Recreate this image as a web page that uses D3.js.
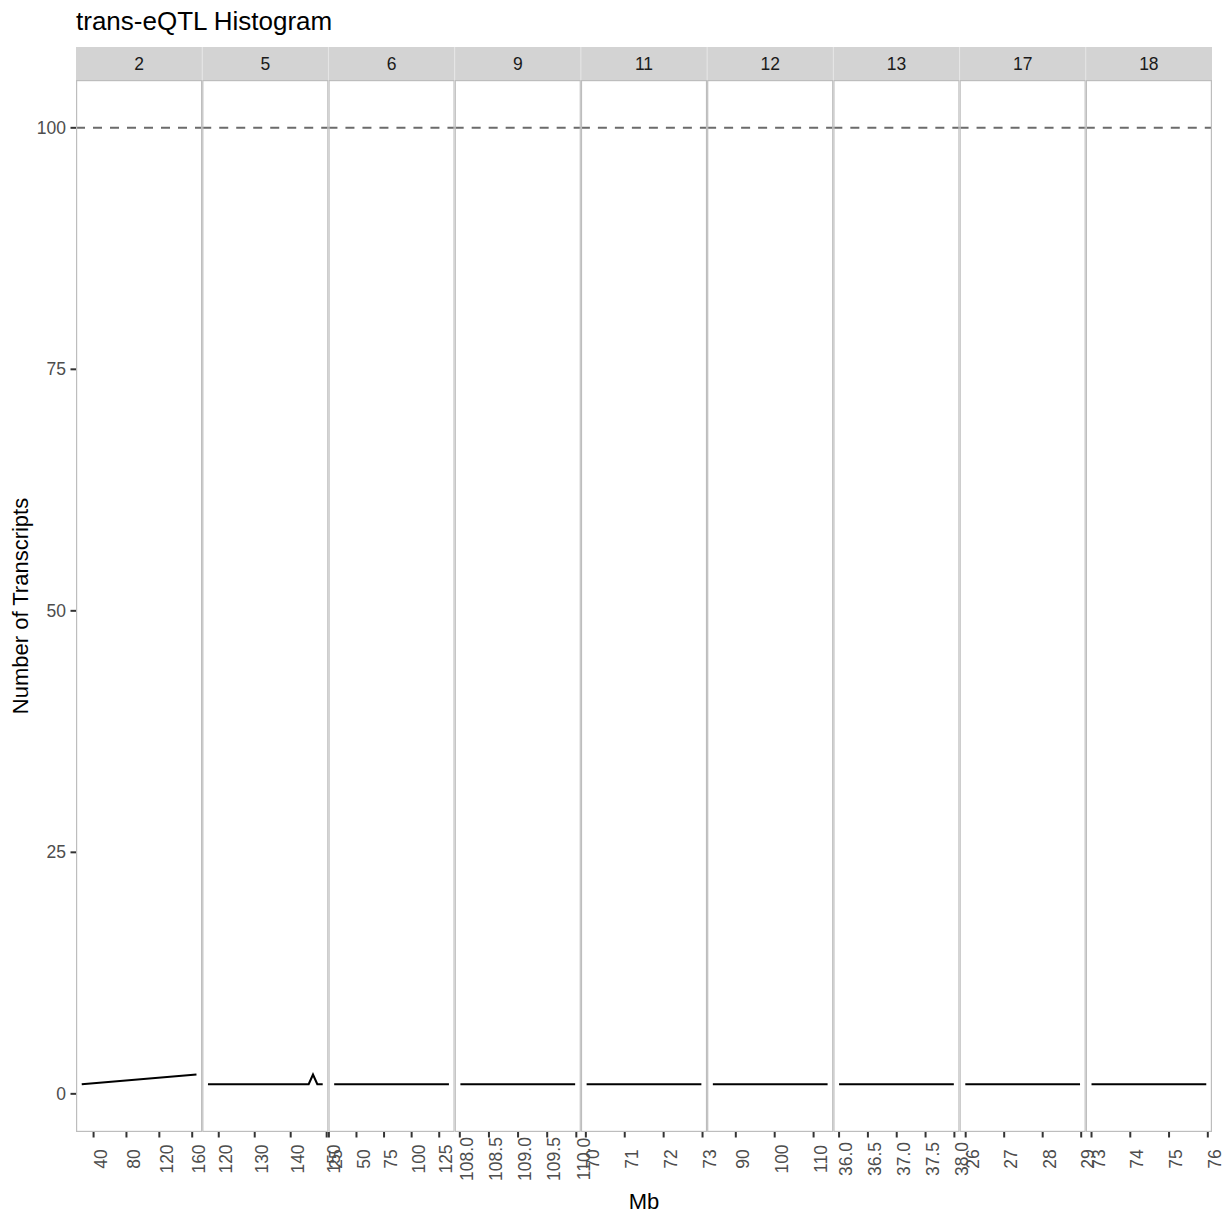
<!DOCTYPE html>
<html>
<head>
<meta charset="utf-8">
<script src="https://cdn.jsdelivr.net/npm/d3@7"></script>
<style>
  html, body { margin: 0; padding: 0; background: #ffffff; }
  svg { display: block; }
  text { font-family: "Liberation Sans", Arial, Helvetica, sans-serif; }
</style>
</head>
<body>
<script>
// ---------------- data ----------------
const chartTitle = "trans-eQTL Histogram";
const xTitle = "Mb";
const yTitle = "Number of Transcripts";
const chromosomes = ["2", "5", "6", "9", "11", "12", "13", "17", "18"];
const threshold = 100;
const yTicks = [0, 25, 50, 75, 100];

// positions (Mb) and transcript counts per chromosome
const chr2Mb  = [25.6, 165.2];                      const chr2N  = [1, 2];
const chr5Mb  = [117.0, 145.0, 146.2, 147.4, 148.9]; const chr5N  = [1, 1, 2, 1, 1];
const chr6Mb  = [29.8, 133.8];                      const chr6N  = [1, 1];
const chr9Mb  = [108.01, 109.98];                   const chr9N  = [1, 1];
const chr11Mb = [70.02, 72.97];                     const chr11N = [1, 1];
const chr12Mb = [84.1, 113.6];                      const chr12N = [1, 1];
const chr13Mb = [36.0, 37.99];                      const chr13N = [1, 1];
const chr17Mb = [25.99, 28.97];                     const chr17N = [1, 1];
const chr18Mb = [73.0, 75.96];                      const chr18N = [1, 1];

// x tick labels per chromosome
const chr2Ticks  = ["40", "80", "120", "160"];
const chr5Ticks  = ["120", "130", "140", "150"];
const chr6Ticks  = ["25", "50", "75", "100", "125"];
const chr9Ticks  = ["108.0", "108.5", "109.0", "109.5", "110.0"];
const chr11Ticks = ["70", "71", "72", "73"];
const chr12Ticks = ["90", "100", "110"];
const chr13Ticks = ["36.0", "36.5", "37.0", "37.5", "38.0"];
const chr17Ticks = ["26", "27", "28", "29"];
const chr18Ticks = ["73", "74", "75", "76"];

const panelData = [
  [chr2Mb, chr2N, chr2Ticks], [chr5Mb, chr5N, chr5Ticks], [chr6Mb, chr6N, chr6Ticks],
  [chr9Mb, chr9N, chr9Ticks], [chr11Mb, chr11N, chr11Ticks], [chr12Mb, chr12N, chr12Ticks],
  [chr13Mb, chr13N, chr13Ticks], [chr17Mb, chr17N, chr17Ticks], [chr18Mb, chr18N, chr18Ticks]
].map((d, i) => ({
  chr: chromosomes[i],
  points: d[0].map((mb, j) => ({ mb: mb, n: d[1][j] })),
  ticks: d[2]
}));

// ---------------- layout ----------------
const W = 1224, H = 1224;
const plotLeft = 76, plotRight = 1212;
const stripTop = 47, stripBottom = 80, panelBottom = 1132;
const nP = chromosomes.length;
const pw = (plotRight - plotLeft) / nP;

const svg = d3.select("body").append("svg")
  .attr("width", W).attr("height", H)
  .attr("viewBox", `0 0 ${W} ${H}`);

svg.append("rect").attr("width", W).attr("height", H).attr("fill", "#ffffff");

// y scale (ggplot-like 5% expansion)
const allN = panelData.flatMap(p => p.points.map(q => q.n)).concat([threshold]);
const yMin = d3.min(allN), yMax = d3.max(allN);
const yPad = (yMax - yMin) * 0.05;
const y = d3.scaleLinear().domain([yMin - yPad, yMax + yPad]).range([panelBottom, stripBottom]);

const fontTick = 17.5;

panelData.forEach((p, i) => {
  const x0 = plotLeft + i * pw, x1 = x0 + pw;
  const ext = d3.extent(p.points, d => d.mb);
  const pad = (ext[1] - ext[0]) * 0.05;
  const x = d3.scaleLinear().domain([ext[0] - pad, ext[1] + pad]).range([x0, x1]);
  const g = svg.append("g");

  // panel background
  g.append("rect").attr("x", x0).attr("y", stripBottom)
    .attr("width", pw).attr("height", panelBottom - stripBottom)
    .attr("fill", "#ffffff");

  // threshold line
  g.append("line")
    .attr("x1", x0).attr("x2", x1)
    .attr("y1", y(threshold)).attr("y2", y(threshold))
    .attr("stroke", "#6b6b6b").attr("stroke-width", 2.1)
    .attr("stroke-dasharray", "9,8");

  // data line
  const line = d3.line().x(d => x(d.mb)).y(d => y(d.n));
  g.append("path").datum(p.points)
    .attr("d", line).attr("fill", "none")
    .attr("stroke", "#000000").attr("stroke-width", 2.1)
    .attr("stroke-linejoin", "miter");

  // panel border
  g.append("rect").attr("x", x0 + 0.6).attr("y", stripBottom + 0.6)
    .attr("width", pw - 1.2).attr("height", panelBottom - stripBottom - 1.2)
    .attr("fill", "none").attr("stroke", "#bdbdbd").attr("stroke-width", 1.2);

  // strip
  g.append("rect").attr("x", x0).attr("y", stripTop)
    .attr("width", pw).attr("height", stripBottom - stripTop)
    .attr("fill", "#d3d3d3");
  g.append("text")
    .attr("x", (x0 + x1) / 2).attr("y", (stripTop + stripBottom) / 2)
    .attr("text-anchor", "middle").attr("dominant-baseline", "central")
    .attr("font-size", fontTick).attr("fill", "#1a1a1a")
    .text(p.chr);

  // x axis ticks
  const xa = g.append("g");
  p.ticks.forEach(t => {
    const xv = x(+t);
    xa.append("line").attr("x1", xv).attr("x2", xv)
      .attr("y1", panelBottom).attr("y2", panelBottom + 5.5)
      .attr("stroke", "#333333").attr("stroke-width", 2);
    xa.append("text")
      .attr("transform", `translate(${xv},1159) rotate(-90)`)
      .attr("text-anchor", "middle")
      .attr("dy", 13.2)
      .attr("font-size", fontTick).attr("fill", "#4d4d4d")
      .text(t);
  });
});

// strip dividers
for (let i = 1; i < nP; i++) {
  const xv = plotLeft + i * pw;
  svg.append("line").attr("x1", xv).attr("x2", xv)
    .attr("y1", stripTop).attr("y2", stripBottom)
    .attr("stroke", "#e6e6e6").attr("stroke-width", 1);
}

// y axis
const ya = svg.append("g");
yTicks.forEach(t => {
  ya.append("line").attr("x1", plotLeft - 5.5).attr("x2", plotLeft)
    .attr("y1", y(t)).attr("y2", y(t))
    .attr("stroke", "#333333").attr("stroke-width", 2);
  ya.append("text")
    .attr("x", plotLeft - 10).attr("y", y(t))
    .attr("text-anchor", "end").attr("dominant-baseline", "central")
    .attr("font-size", fontTick).attr("fill", "#4d4d4d")
    .text(t);
});

// titles
svg.append("text").attr("x", plotLeft).attr("y", 30)
  .attr("font-size", 26).attr("fill", "#000000").text(chartTitle);
svg.append("text").attr("x", (plotLeft + plotRight) / 2).attr("y", 1209)
  .attr("text-anchor", "middle").attr("font-size", 22).attr("fill", "#000000").text(xTitle);
svg.append("text")
  .attr("transform", `translate(28,${(stripBottom + panelBottom) / 2}) rotate(-90)`)
  .attr("text-anchor", "middle").attr("font-size", 22).attr("fill", "#000000").text(yTitle);
</script>
</body>
</html>
